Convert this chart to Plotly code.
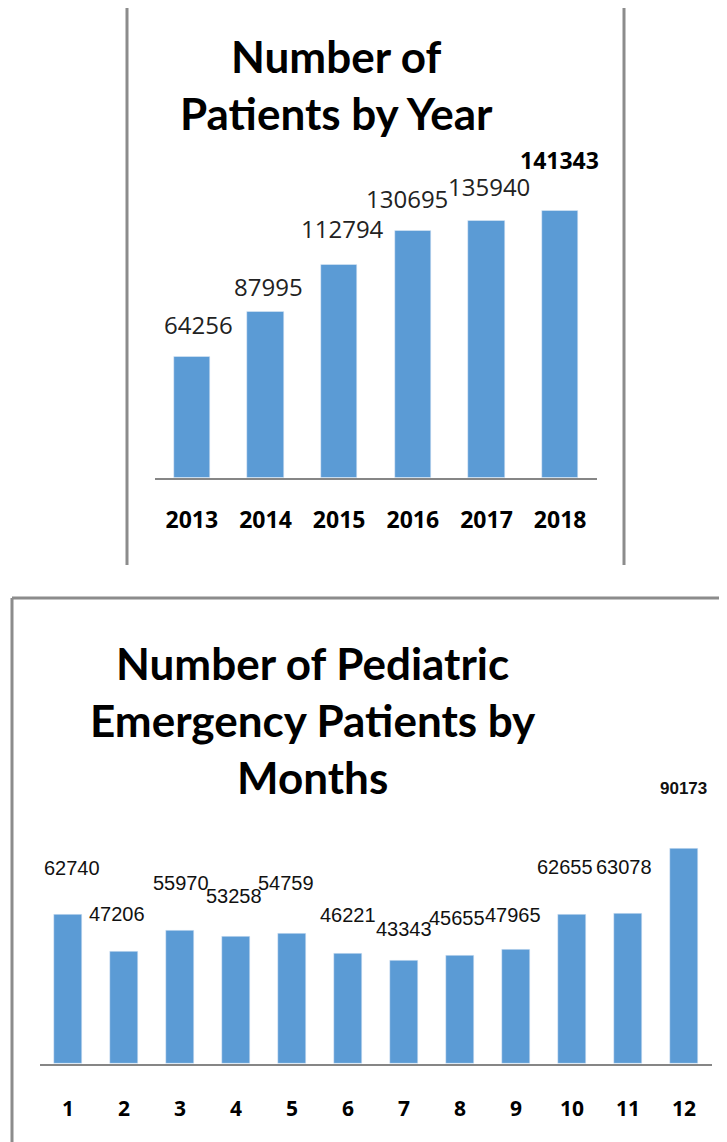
import plotly.graph_objects as go

# ---------------- data ----------------
years = ["2013", "2014", "2015", "2016", "2017", "2018"]
patients_by_year = [64256, 87995, 112794, 130695, 135940, 141343]

months = ["1", "2", "3", "4", "5", "6", "7", "8", "9", "10", "11", "12"]
pediatric_by_month = [62740, 47206, 55970, 53258, 54759, 46221,
                      43343, 45655, 47965, 62655, 63078, 90173]

# label offsets (pixels, style only)
year_dx = [7, 3, 3, -6, 2, -1]
year_dy = [32, 25, 36, 33, 35, 51]
month_dx = [4, -7, 1, -2, -6, 0, 0, -3, -3, -7, -4, -1]
month_dy = [46, 37, 48, 41, 50, 39, 32, 37, 35, 48, 47, 60]

OFF = 8  # page body margin
W, H = 727 - OFF, 1142 - OFF
BLUE = "#5B9BD5"
GRAY = "#868686"


def px(x):
    return (x - OFF) / W


def py(y):
    return 1 - (y - OFF) / H


fig = go.Figure()
fig.add_trace(go.Bar(x=years, y=patients_by_year, marker_color=BLUE, width=0.49,
                     xaxis="x", yaxis="y", hoverinfo="skip"))
fig.add_trace(go.Bar(x=months, y=pediatric_by_month, marker_color=BLUE, width=0.5,
                     xaxis="x2", yaxis="y2", hoverinfo="skip"))

annotations = []
for i, v in enumerate(patients_by_year):
    last = i == len(years) - 1
    annotations.append(dict(
        x=i, y=v, xref="x", yref="y", text=f"{v}", showarrow=False,
        xanchor="center", yanchor="middle", xshift=year_dx[i], yshift=year_dy[i],
        font=dict(family="Open Sans", size=24 if not last else 23,
                  color="#222" if not last else "#000",
                  weight="bold" if last else "normal")))
for i, v in enumerate(pediatric_by_month):
    last = i == len(months) - 1
    annotations.append(dict(
        x=i, y=v, xref="x2", yref="y2", text=f"{v}", showarrow=False,
        xanchor="center", yanchor="middle", xshift=month_dx[i], yshift=month_dy[i],
        font=dict(family="Liberation Sans", size=20 if not last else 17,
                  color="#111", weight="bold" if last else "normal")))

annotations.append(dict(
    x=px(336), y=py(84), xref="paper", yref="paper", showarrow=False,
    text="Number of<br>Patients by Year", xanchor="center", yanchor="middle",
    font=dict(family="Lato", size=44, color="#000", weight="bold")))
annotations.append(dict(
    x=px(313), y=py(720), xref="paper", yref="paper", showarrow=False,
    text="Number of Pediatric<br>Emergency Patients by<br>Months",
    xanchor="center", yanchor="middle",
    font=dict(family="Lato", size=44, color="#000", weight="bold")))

shapes = [
    dict(type="line", xref="paper", yref="paper", x0=px(127), x1=px(127),
         y0=py(6), y1=py(565), line=dict(color="#8c8c8c", width=3)),
    dict(type="line", xref="paper", yref="paper", x0=px(624), x1=px(624),
         y0=py(6), y1=py(565), line=dict(color="#8c8c8c", width=3)),
    dict(type="line", xref="paper", yref="paper", x0=px(12), x1=px(727),
         y0=py(598), y1=py(598), line=dict(color="#8c8c8c", width=3)),
    dict(type="line", xref="paper", yref="paper", x0=px(12), x1=px(12),
         y0=py(598), y1=py(1142), line=dict(color="#8c8c8c", width=3)),
]

fig.update_layout(
    width=W, height=H, margin=dict(l=0, r=0, t=0, b=0),
    paper_bgcolor="white", plot_bgcolor="white", showlegend=False,
    annotations=annotations, shapes=shapes, bargap=0,
    xaxis=dict(domain=[px(155), px(597)], anchor="y", type="category",
               range=[-0.5, 5.5], showgrid=False, showline=True,
               linecolor=GRAY, linewidth=2, ticks="", ticklabelstandoff=20,
               tickfont=dict(family="Open Sans", size=23, color="#000", weight="bold")),
    yaxis=dict(domain=[py(478), py(478 - 267 * 160000 / 141343)], anchor="x",
               range=[0, 160000], visible=False),
    xaxis2=dict(domain=[px(40), px(712)], anchor="y2", type="category",
                range=[-0.5, 11.5], showgrid=False, showline=True,
                linecolor=GRAY, linewidth=2, ticks="", ticklabelstandoff=25,
                tickfont=dict(family="Open Sans", size=21, color="#000", weight="bold")),
    yaxis2=dict(domain=[py(1064), py(1064 - 215 * 100000 / 90173)], anchor="x2",
                range=[0, 100000], visible=False),
)

fig.write_html("out.html")
